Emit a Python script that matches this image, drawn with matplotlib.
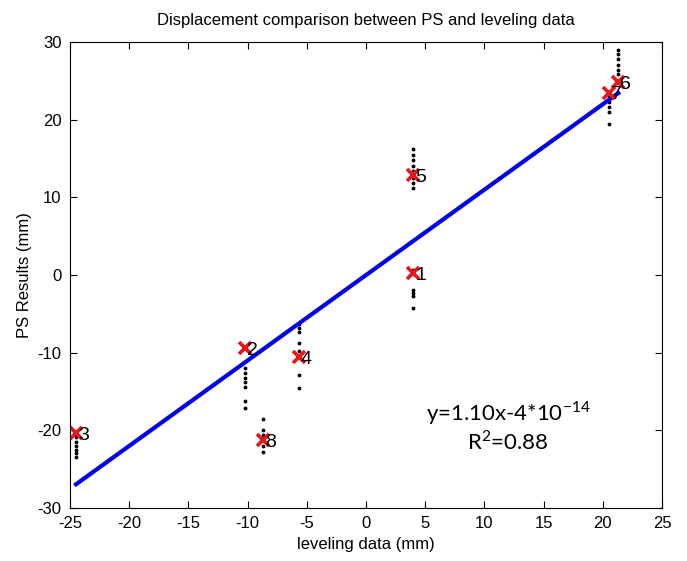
import matplotlib
matplotlib.use('Agg')
import matplotlib.pyplot as plt
import numpy as np

plt.rcParams['font.family'] = ['Liberation Sans', 'DejaVu Sans']
plt.rcParams['axes.unicode_minus'] = False
plt.rcParams['mathtext.fontset'] = 'custom'
plt.rcParams['mathtext.rm'] = 'Lato'

# mean values per benchmark (red crosses)
point_ids = ['1', '2', '3', '4', '5', '6', '7', '8']
leveling = [4.0, -10.2, -24.5, -5.7, 4.0, 21.3, 20.5, -8.7]
ps_mean = [0.3, -9.4, -20.4, -10.6, 12.9, 24.9, 23.5, -21.3]

# individual PS samples (black dots) around each benchmark
ps_samples = {
    '1': [0.6, -1.9, -2.3, -2.7, -4.2],
    '2': [-12.0, -12.6, -13.2, -13.8, -14.4, -16.2, -17.1],
    '3': [-20.9, -21.5, -22.0, -22.5, -22.9, -23.4],
    '4': [-6.3, -6.8, -7.3, -8.8, -9.8, -12.9, -14.6],
    '5': [16.2, 15.5, 14.8, 14.1, 13.4, 12.5, 11.8, 11.2],
    '6': [29.0, 28.4, 27.8, 27.0, 26.4, 25.9],
    '7': [23.0, 22.3, 21.6, 21.0, 19.5],
    '8': [-18.5, -20.0, -20.6, -21.3, -22.0, -22.8],
}

slope, intercept = 1.10, -4e-14

fig = plt.figure(figsize=(6.87, 5.61), dpi=100)
ax = fig.add_axes([0.102, 0.0945, 0.8617, 0.8305])

for pid, x in zip(point_ids, leveling):
    ys = ps_samples[pid]
    ax.plot([x]*len(ys), ys, 'k.', ms=3.5)

xfit = np.array([min(leveling), max(leveling)])
ax.plot(xfit, slope*xfit + intercept, color='#0000ee', lw=3)

ax.plot(leveling, ps_mean, 'x', color='#e8151b', ms=8, mew=2.6)
for pid, x, y in zip(point_ids, leveling, ps_mean):
    ax.text(x + 0.15, y - 0.3, pid, fontsize=14, va='center', ha='left')

ax.text(12.0, -17.8, 'y=1.10x-4*10$^{\\mathregular{-14}}$', fontsize=16, ha='center', va='center',
        family=['Lato', 'DejaVu Sans'])
ax.text(12.0, -21.4, 'R$^{\\mathregular{2}}$=0.88', fontsize=16, ha='center', va='center',
        family=['Lato', 'DejaVu Sans'])

ax.set_xlim(-25, 25)
ax.set_ylim(-30, 30)
ax.set_xticks(np.arange(-25, 26, 5))
ax.set_yticks(np.arange(-30, 31, 10))
ax.tick_params(direction='in', top=True, right=True, labelsize=12, length=5, pad=6)
ax.set_xlabel('leveling data (mm)', fontsize=12)
ax.set_ylabel('PS Results (mm)', fontsize=12)
ax.set_title('Displacement comparison between PS and leveling data', fontsize=12, pad=12)

fig.savefig('out.png', dpi=100)
